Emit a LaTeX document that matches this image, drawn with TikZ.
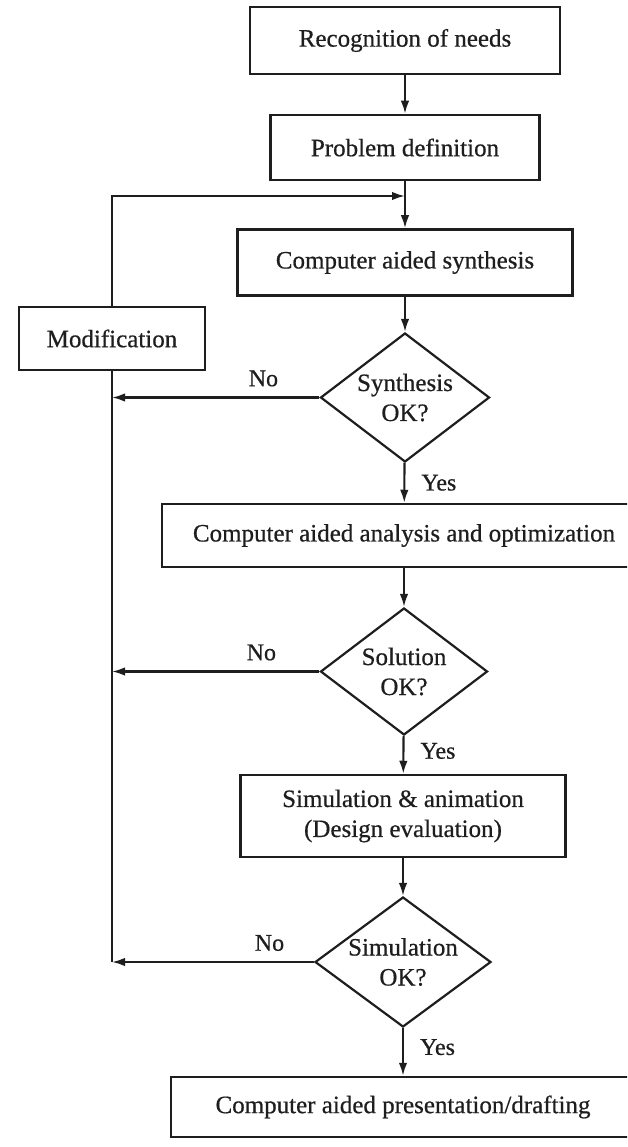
\documentclass[tikz,border=0pt]{standalone}
\usepackage{fontspec}
\setmainfont{Liberation Serif}[FakeBold=0.6]
\usetikzlibrary{shapes.geometric,arrows.meta}
\definecolor{ink}{HTML}{1E1E1E}
\begin{document}
\begin{tikzpicture}[x=1pt,y=-1pt,
  every node/.style={font=\fontsize{25}{30}\selectfont, text=ink},
  proc/.style={draw=ink, line width=2.5pt, inner sep=0pt, align=center},
  dec/.style={draw=ink, line width=2.2pt, shape=diamond, inner sep=0pt},
  flow/.style={draw=ink, line width=2.1pt, -{Latex[length=13pt,width=8.5pt]}},
  plain/.style={draw=ink, line width=2.1pt},
  tag/.style={font=\fontsize{24}{28}\selectfont, inner sep=2pt}]
\useasboundingbox (0,0) rectangle (627,1147);
\clip (0,0) rectangle (627,1147);

% process boxes along the main spine
\node[proc, minimum width=310pt, minimum height=67pt] (need) at (405,40.5) {Recognition of needs};
\node[proc, minimum width=269pt, minimum height=65pt] (prob) at (405,147.5) {Problem definition};
\node[proc, minimum width=335pt, minimum height=66pt] (synth) at (405,262.5) {Computer aided synthesis};
\node[proc, minimum width=186pt, minimum height=63pt] (mod) at (112,338.5) {Modification};
\node[proc, minimum width=484pt, minimum height=63pt] (anal) at (404,535.5) {Computer aided analysis and optimization};
\node[proc, minimum width=325pt, minimum height=82pt] (sim) at (403,816) {Simulation \& animation\\(Design evaluation)};
\node[proc, minimum width=464pt, minimum height=60pt] (draft) at (403,1107) {Computer aided presentation/drafting};

% decision diamonds
\node[dec, minimum width=169pt, minimum height=129pt,
      label={[align=center]center:Synthesis\\OK?}] (qsyn) at (405,397.5) {};
\node[dec, minimum width=167pt, minimum height=127pt,
      label={[align=center]center:Solution\\OK?}] (qsol) at (404,671.5) {};
\node[dec, minimum width=176pt, minimum height=130pt,
      label={[align=center]center:Simulation\\OK?}] (qsim) at (403,962) {};

% feedback junctions
\coordinate (j1) at (qsyn.west -| mod.south);
\coordinate (j2) at (qsol.west -| mod.south);
\coordinate (j3) at (qsim.west -| mod.south);
\coordinate (merge) at (405,196);

% main flow
\draw[flow] (need) -- (prob);
\draw[flow] (prob) -- (synth);
\draw[flow] (synth) -- (qsyn);
\draw[flow] (qsyn) -- node[tag, right=14pt, pos=0.5] {Yes} (anal);
\draw[flow] (anal) -- (qsol);
\draw[flow] (qsol) -- node[tag, right=14pt, pos=0.4] {Yes} (sim);
\draw[flow] (sim) -- (qsim);
\draw[flow] (qsim) -- node[tag, right=14pt, pos=0.4] {Yes} (draft);

% rejection paths back to modification
\draw[flow] (qsyn.west) -- node[tag, above=8pt, pos=0.27] {No} (j1);
\draw[flow] (qsol.west) -- node[tag, above=8pt, pos=0.28] {No} (j2);
\draw[flow] (qsim.west) -- node[tag, above=8pt, pos=0.22] {No} (j3);
\draw[plain] (j3) -- (mod.south);
\draw[flow] (mod.north) |- (merge);
\end{tikzpicture}
\end{document}
